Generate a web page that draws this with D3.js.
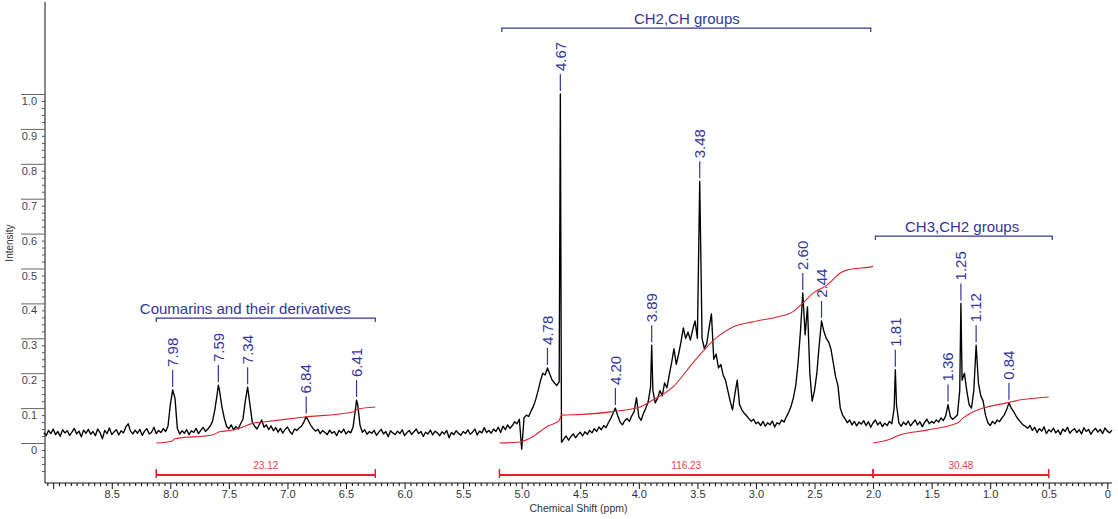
<!DOCTYPE html>
<html>
<head>
<meta charset="utf-8">
<script src="https://cdn.jsdelivr.net/npm/d3@7"></script>
<style>
  html, body { margin: 0; padding: 0; background: #fff; }
  svg { display: block; font-family: "Liberation Sans", Arial, sans-serif; }
</style>
</head>
<body>
<svg id="chart" width="1118" height="519"></svg>
<script>
// 1H NMR trace, intensity sampled every 0.02 ppm from 9.08 ppm down to -0.04 ppm
const traceStart = 9.08;
const traceStep = 0.02;
const traceIntensity = [
  0.030, 0.021, 0.036, 0.027, 0.040, 0.024, 0.033, 0.019, 0.038, 0.029,
  0.035, 0.022, 0.031, 0.042, 0.026, 0.034, 0.018, 0.037, 0.028, 0.039,
  0.025, 0.033, 0.021, 0.040, 0.030, 0.012, 0.036, 0.027, 0.043, 0.024,
  0.032, 0.038, 0.023, 0.035, 0.029, 0.046, 0.055, 0.034, 0.026, 0.037,
  0.028, 0.039, 0.022, 0.034, 0.041, 0.026, 0.031, 0.045, 0.027, 0.036,
  0.030, 0.041, 0.033, 0.048, 0.110, 0.152, 0.128, 0.042, 0.026, 0.035,
  0.028, 0.038, 0.024, 0.035, 0.030, 0.042, 0.027, 0.036, 0.045, 0.033,
  0.040, 0.048, 0.062, 0.095, 0.140, 0.150, 0.105, 0.072, 0.048, 0.041,
  0.052, 0.038, 0.047, 0.040, 0.055, 0.068, 0.120, 0.160, 0.110, 0.060,
  0.048, 0.040, 0.053, 0.066, 0.045, 0.052, 0.038, 0.049, 0.035, 0.044,
  0.031, 0.042, 0.028, 0.039, 0.046, 0.033, 0.025, 0.040, 0.036, 0.043,
  0.048, 0.060, 0.076, 0.063, 0.050, 0.041, 0.034, 0.039, 0.027, 0.036,
  0.030, 0.024, 0.037, 0.028, 0.033, 0.021, 0.036, 0.029, 0.040, 0.026,
  0.034, 0.029, 0.045, 0.095, 0.110, 0.050, 0.031, 0.038, 0.025, 0.033,
  0.028, 0.036, 0.022, 0.031, 0.039, 0.026, 0.033, 0.018, 0.035, 0.029,
  0.024, 0.034, 0.027, 0.038, 0.021, 0.030, 0.036, 0.025, 0.032, 0.040,
  0.027, 0.033, 0.019, 0.031, 0.026, 0.037, 0.023, 0.034, 0.029, 0.021,
  0.032, 0.026, 0.036, 0.015, 0.030, 0.024, 0.035, 0.028, 0.022, 0.033,
  0.027, 0.038, 0.025, 0.031, 0.040, 0.023, 0.034, 0.029, 0.044, 0.030,
  0.036, 0.028, 0.040, 0.033, 0.045, 0.030, 0.048, 0.038, 0.052, 0.042,
  0.050, 0.061, 0.055, 0.068, -0.018, 0.072, 0.080, 0.076, 0.092, 0.105,
  0.125, 0.150, 0.178, 0.200, 0.195, 0.215, 0.198, 0.180, 0.172, 0.165,
  0.175, 0.002, 0.012, 0.020, 0.008, 0.018, 0.026, 0.015, 0.024, 0.031,
  0.020, 0.032, 0.025, 0.036, 0.029, 0.041, 0.033, 0.046, 0.038, 0.050,
  0.044, 0.058, 0.070, 0.085, 0.100, 0.078, 0.060, 0.052, 0.064, 0.070,
  0.062, 0.078, 0.090, 0.130, 0.075, 0.065, 0.085, 0.100, 0.118, 0.160,
  0.150, 0.115, 0.128, 0.150, 0.135, 0.172, 0.158, 0.195, 0.230, 0.270,
  0.225, 0.255, 0.290, 0.330, 0.300, 0.318, 0.295, 0.325, 0.350, 0.300,
  0.750, 0.300, 0.270, 0.285, 0.330, 0.370, 0.240, 0.255, 0.215, 0.225,
  0.195, 0.180, 0.150, 0.120, 0.095, 0.140, 0.180, 0.110, 0.095, 0.085,
  0.078, 0.070, 0.062, 0.068, 0.055, 0.060, 0.050, 0.062, 0.048, 0.058,
  0.052, 0.063, 0.046, 0.058, 0.054, 0.066, 0.060, 0.075, 0.088, 0.105,
  0.130, 0.165, 0.230, 0.320, 0.430, 0.310, 0.390, 0.200, 0.120, 0.150,
  0.200, 0.280, 0.350, 0.320, 0.300, 0.290, 0.270, 0.230, 0.190, 0.165,
  0.100, 0.080, 0.070, 0.058, 0.066, 0.052, 0.062, 0.049, 0.060, 0.054,
  0.064, 0.050, 0.061, 0.045, 0.058, 0.066, 0.052, 0.060, 0.047, 0.057,
  0.050, 0.062, 0.055, 0.100, 0.110, 0.058, 0.048, 0.060, 0.052, 0.063,
  0.049, 0.058, 0.066, 0.052, 0.061, 0.047, 0.059, 0.068, 0.055, 0.062,
  0.057, 0.066, 0.060, 0.072, 0.064, 0.078, 0.110, 0.075, 0.068, 0.074,
  0.080, 0.150, 0.180, 0.200, 0.150, 0.110, 0.100, 0.150, 0.280, 0.170,
  0.135, 0.120, 0.080, 0.058, 0.050, 0.062, 0.055, 0.066, 0.061, 0.072,
  0.080, 0.095, 0.115, 0.100, 0.090, 0.078, 0.068, 0.060, 0.052, 0.048,
  0.042, 0.050, 0.036, 0.045, 0.030, 0.041, 0.034, 0.046, 0.027, 0.038,
  0.032, 0.043, 0.029, 0.037, 0.024, 0.040, 0.033, 0.045, 0.028, 0.036,
  0.041, 0.030, 0.038, 0.026, 0.044, 0.033, 0.039, 0.025, 0.036, 0.042,
  0.031, 0.039, 0.027, 0.043, 0.034, 0.029, 0.037
];

// picked peaks: chemical shift (ppm) and apex intensity
const peakShifts  = [7.98, 7.59, 7.34, 6.84, 6.41, 4.78, 4.67, 4.20, 3.89, 3.48, 2.60, 2.44, 1.81, 1.36, 1.25, 1.12, 0.84];
const peakHeights = [0.152, 0.166, 0.160, 0.076, 0.123, 0.215, 1.000, 0.100, 0.280, 0.750, 0.430, 0.350, 0.210, 0.110, 0.400, 0.280, 0.115];

// integration regions
const integralFrom   = [8.12, 5.19, 2.00];
const integralTo     = [6.25, 2.00, 0.50];
const integralValues = ["23.12", "116.23", "30.48"];

// running integral curves, [ppm, level on the intensity axis]
const integralCurve1 = [[8.12,0.000],[7.99,0.005],[7.96,0.012],[7.64,0.023],[7.58,0.032],[7.47,0.037],[7.38,0.046],
  [7.29,0.057],[7.21,0.060],[6.87,0.074],[6.44,0.089],[6.40,0.097],[6.25,0.103]];
const integralCurve2 = [[5.19,0.000],[5.02,0.003],[4.91,0.017],[4.79,0.046],[4.68,0.064],[4.66,0.080],[4.48,0.082],
  [4.22,0.090],[3.99,0.103],[3.88,0.123],[3.71,0.160],[3.54,0.229],[3.42,0.275],[3.31,0.309],[3.20,0.332],
  [3.03,0.347],[2.82,0.361],[2.69,0.375],[2.60,0.401],[2.51,0.430],[2.39,0.453],[2.28,0.487],[2.22,0.496],
  [2.03,0.504],[2.00,0.506]];
const integralCurve3 = [[2.00,0.000],[1.84,0.013],[1.79,0.021],[1.54,0.037],[1.28,0.057],[1.23,0.072],[1.15,0.089],
  [1.06,0.100],[0.86,0.115],[0.75,0.123],[0.50,0.132]];

// assigned groups
const groupNames = ["Coumarins and their derivatives", "CH2,CH groups", "CH3,CH2 groups"];
const groupFrom  = [8.12, 5.17, 1.98];
const groupTo    = [6.25, 2.02, 0.47];

// axis ticks
const shiftTicks = d3.range(0, 19).map(i => i * 0.5);
const intensityTicks = d3.range(0, 11).map(i => i / 10);

// ---------------------------------------------------------------------------
const svg = d3.select("#chart");
const blue = "#35359a";
const red = "#e3212a";

const x = d3.scaleLinear().domain([9.07, -0.04]).range([45, 1112]);
const y = d3.scaleLinear().domain([0, 1]).range([443, 94]);
const axisBase = 483;

// shift axis
const xMinor = d3.range(0, 182).filter(i => i % 10 !== 0).map(i => +(i * 0.05).toFixed(2));
svg.append("g")
  .attr("transform", `translate(0,${axisBase})`)
  .call(d3.axisBottom(x).tickValues(xMinor).tickSize(3).tickFormat("").tickSizeOuter(0))
  .call(g => g.select(".domain").remove());
const gx = svg.append("g")
  .attr("transform", `translate(0,${axisBase})`)
  .call(d3.axisBottom(x).tickValues(shiftTicks).tickSize(6).tickSizeOuter(0)
    .tickFormat(v => v === 0 ? "0" : (v > 8.9 ? "" : v.toFixed(1))));
gx.select(".domain").attr("d", `M${x.range()[0]},0H${x.range()[1]}`).attr("stroke", "#111");
gx.selectAll(".tick line").attr("stroke", "#111");
gx.selectAll(".tick text").attr("y", 7).attr("font-size", 11).attr("fill", "#333")
  .attr("font-family", "Liberation Sans, Arial, sans-serif");

svg.append("text")
  .attr("x", (x.range()[0] + x.range()[1]) / 2).attr("y", 512)
  .attr("text-anchor", "middle").attr("font-size", 10.5).attr("fill", "#333")
  .text("Chemical Shift (ppm)");

// intensity axis
svg.append("line")
  .attr("x1", 45).attr("x2", 45).attr("y1", 2).attr("y2", axisBase)
  .attr("stroke", "#111");
const yMinor = d3.range(-5, 51).filter(i => i % 5 !== 0).map(i => i * 0.02);
svg.append("g")
  .attr("transform", "translate(45,0)")
  .call(d3.axisLeft(y).tickValues(yMinor).tickSize(3).tickFormat(""))
  .call(g => g.select(".domain").remove())
  .call(g => g.selectAll(".tick line").attr("stroke", "#555"));
const gy = svg.append("g")
  .attr("transform", "translate(45,0)")
  .call(d3.axisLeft(y).tickValues(intensityTicks).tickSize(24)
    .tickFormat(v => v === 0 ? "0" : v.toFixed(1)));
gy.select(".domain").remove();
gy.selectAll(".tick line").attr("stroke", "#666");
gy.selectAll(".tick text").attr("x", -8).attr("y", 7).attr("font-size", 11).attr("fill", "#444")
  .attr("font-family", "Liberation Sans, Arial, sans-serif");

svg.append("text")
  .attr("transform", "translate(13,243) rotate(-90)")
  .attr("text-anchor", "middle").attr("font-size", 10).attr("fill", "#333")
  .text("Intensity");

// spectrum trace: regular samples merged with the picked peak apexes
const samples = traceIntensity.map((v, i) => [+(traceStart - i * traceStep).toFixed(2), v]);
const apexes = peakShifts.map((s, i) => [s, peakHeights[i]]);
const tracePoints = samples
  .filter(p => !peakShifts.some(s => Math.abs(s - p[0]) < 0.005))
  .concat(apexes)
  .sort((a, b) => b[0] - a[0]);

svg.append("path")
  .datum(tracePoints)
  .attr("fill", "none")
  .attr("stroke", "#000")
  .attr("stroke-width", 1.35)
  .attr("stroke-linejoin", "round")
  .attr("d", d3.line().x(d => x(d[0])).y(d => y(d[1])));

// running integrals
const integralLine = d3.line().x(d => x(d[0])).y(d => y(d[1])).curve(d3.curveMonotoneX);
[integralCurve1, integralCurve2, integralCurve3].forEach(c => {
  svg.append("path")
    .datum(c)
    .attr("fill", "none")
    .attr("stroke", "#d8262c")
    .attr("stroke-width", 1.1)
    .attr("d", integralLine);
});

// integration bars with values
const barY = 475;
integralFrom.forEach((f, i) => {
  const x0 = x(f), x1 = x(integralTo[i]);
  const g = svg.append("g");
  g.append("line").attr("x1", x0).attr("x2", x1).attr("y1", barY).attr("y2", barY)
    .attr("stroke", red).attr("stroke-width", 2);
  [x0, x1].forEach(xx => g.append("line")
    .attr("x1", xx).attr("x2", xx).attr("y1", barY - 6).attr("y2", barY + 3)
    .attr("stroke", red).attr("stroke-width", 1.5));
  g.append("text")
    .attr("x", (x0 + x1) / 2).attr("y", barY - 6)
    .attr("text-anchor", "middle").attr("font-size", 10).attr("fill", "#e0454d")
    .text(integralValues[i]);
});

// peak labels
peakShifts.forEach((s, i) => {
  const px = x(s), py = y(peakHeights[i]);
  svg.append("line")
    .attr("x1", px).attr("x2", px).attr("y1", py - 3).attr("y2", py - 20)
    .attr("stroke", blue).attr("stroke-width", 1.2);
  svg.append("text")
    .attr("transform", `translate(${px + 5.3},${py - 23}) rotate(-90)`)
    .attr("font-size", 15).attr("fill", blue)
    .text(s.toFixed(2));
});

// group brackets
const bracketLevel = [0.358, 1.189, 0.593];
const groupLabelAt = [7.36, 3.59, 1.24];
groupNames.forEach((name, i) => {
  const by = y(bracketLevel[i]);
  const x0 = x(groupFrom[i]), x1 = x(groupTo[i]);
  svg.append("path")
    .attr("d", `M${x0},${by + 4}V${by}H${x1}V${by + 4}`)
    .attr("fill", "none").attr("stroke", blue).attr("stroke-width", 1.2);
  svg.append("text")
    .attr("x", x(groupLabelAt[i])).attr("y", by - 4)
    .attr("text-anchor", "middle").attr("font-size", 15).attr("fill", blue)
    .text(name);
});
</script>
</body>
</html>
